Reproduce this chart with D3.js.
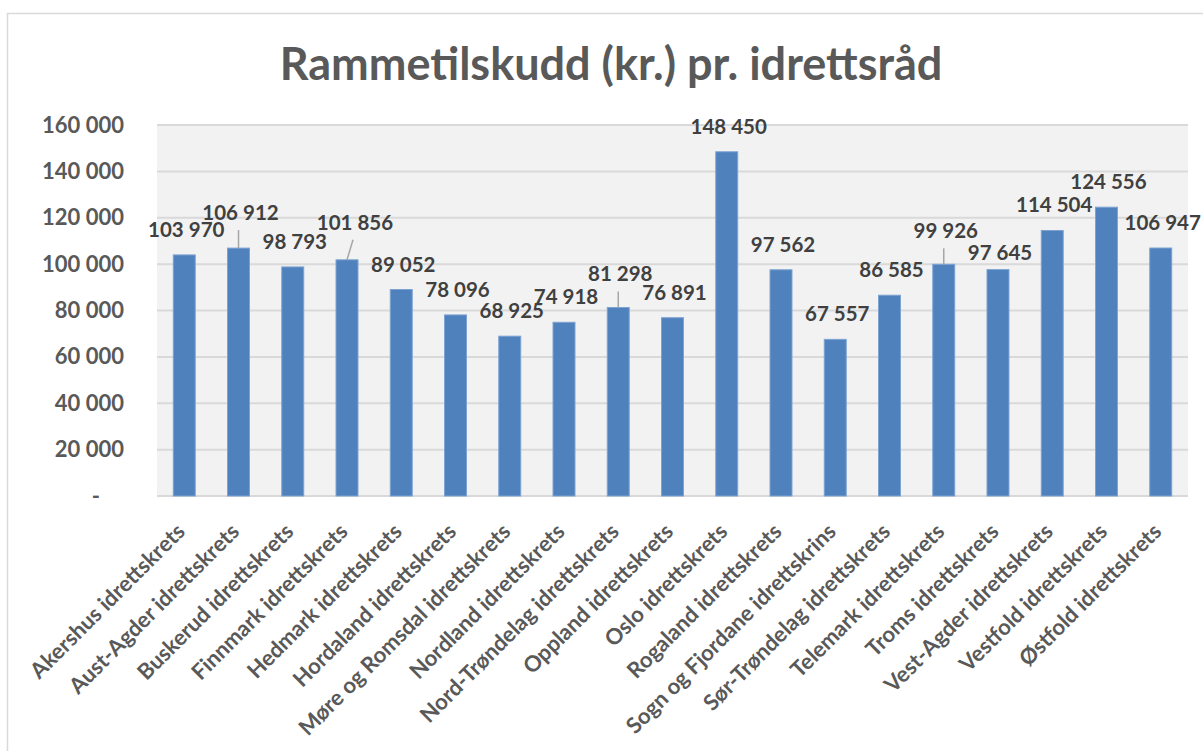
<!DOCTYPE html>
<html>
<head>
<meta charset="utf-8">
<script src="https://cdn.jsdelivr.net/npm/d3@7"></script>
<style>
  body { margin: 0; background: #fff; }
  svg text { font-family: Lato, "Open Sans", sans-serif; font-weight: 700; }
</style>
</head>
<body>
<svg id="chart"></svg>
<script>
const title = "Rammetilskudd (kr.) pr. idrettsråd";

const kretser = [
  "Akershus idrettskrets", "Aust-Agder idrettskrets", "Buskerud idrettskrets",
  "Finnmark idrettskrets", "Hedmark idrettskrets", "Hordaland idrettskrets",
  "Møre og Romsdal idrettskrets", "Nordland idrettskrets", "Nord-Trøndelag idrettskrets",
  "Oppland idrettskrets", "Oslo idrettskrets", "Rogaland idrettskrets",
  "Sogn og Fjordane idrettskrins", "Sør-Trøndelag idrettskrets", "Telemark idrettskrets",
  "Troms idrettskrets", "Vest-Agder idrettskrets", "Vestfold idrettskrets",
  "Østfold idrettskrets"
];

const tilskudd = [
  103970, 106912, 98793, 101856, 89052, 78096, 68925, 74918, 81298,
  76891, 148450, 97562, 67557, 86585, 99926, 97645, 114504, 124556, 106947
];

const yTicks = [0, 20000, 40000, 60000, 80000, 100000, 120000, 140000, 160000];

// labels that were dragged by hand in the original (px offsets, leader line)
const labelNudge = {
  1: { dx: 0, dy: -10, leader: true },
  3: { dx: 6, dy: -12, leader: true },
  8: { dx: 0, dy: -8, leader: true },
  14: { dx: 0, dy: -8, leader: true },
  15: { dx: 0, dy: 8, leader: false }
};

const width = 1203, height = 751;

const svg = d3.select("#chart")
  .attr("width", width)
  .attr("height", height);

// chart frame
svg.append("rect")
  .attr("x", 7.5).attr("y", 13.5)
  .attr("width", width + 20).attr("height", height + 20)
  .attr("fill", "#fff")
  .attr("stroke", "#d9d9d9")
  .attr("stroke-width", 1.5);

const x = d3.scaleBand()
  .domain(kretser)
  .range([157, 1188])
  .paddingInner(0.595)
  .paddingOuter(0.3);

const y = d3.scaleLinear()
  .domain([0, 160000])
  .range([496, 125]);

const fmt = v => v === 0 ? "-" : d3.format(",")(v).replace(/,/g, " ");

// plot area background
svg.append("rect")
  .attr("x", 157).attr("y", y(160000))
  .attr("width", 1188 - 157).attr("height", y(0) - y(160000))
  .attr("fill", "#f2f2f2");

// gridlines
svg.append("g")
  .selectAll("line")
  .data(yTicks)
  .join("line")
  .attr("x1", 157).attr("x2", 1188)
  .attr("y1", d => y(d)).attr("y2", d => y(d))
  .attr("stroke", "#d9d9d9")
  .attr("stroke-width", 2);

// y axis labels
svg.append("g")
  .selectAll("text")
  .data(yTicks)
  .join("text")
  .attr("x", d => d === 0 ? 100 : 124)
  .attr("y", d => y(d) + 7.5)
  .attr("text-anchor", "end")
  .attr("font-size", 22)
  .attr("fill", "#595959")
  .text(fmt);

// bars
svg.append("g")
  .selectAll("rect")
  .data(tilskudd)
  .join("rect")
  .attr("x", (d, i) => x(kretser[i]))
  .attr("y", d => y(d))
  .attr("width", x.bandwidth())
  .attr("height", d => y(0) - y(d))
  .attr("fill", "#4f81bd")
  .attr("stroke", "#7ea3d3")
  .attr("stroke-width", 1);

// data labels
const lab = tilskudd.map((v, i) => {
  const n = labelNudge[i] || { dx: 0, dy: 0, leader: false };
  const bx = x(kretser[i]) + x.bandwidth() / 2;
  return { v, i, bx, top: y(v), lx: bx + 2 + n.dx, ly: y(v) - 18 + n.dy, leader: n.leader };
});

svg.append("g")
  .selectAll("line")
  .data(lab.filter(d => d.leader))
  .join("line")
  .attr("x1", d => d.lx - 2).attr("y1", d => d.ly + 10)
  .attr("x2", d => d.bx).attr("y2", d => d.top)
  .attr("stroke", "#a6a6a6")
  .attr("stroke-width", 1.5);

svg.append("g")
  .selectAll("text")
  .data(lab)
  .join("text")
  .attr("x", d => d.lx)
  .attr("y", d => d.ly)
  .attr("text-anchor", "middle")
  .attr("font-size", 20.5)
  .attr("fill", "#404040")
  .text(d => fmt(d.v));

// category labels
svg.append("g")
  .selectAll("text")
  .data(kretser)
  .join("text")
  .attr("transform", d => `translate(${x(d) + x.bandwidth() / 2 + 2},${533}) rotate(-45)`)
  .attr("text-anchor", "end")
  .attr("font-size", 22)
  .attr("fill", "#595959")
  .text(d => d);

// title
svg.append("text")
  .attr("x", 611)
  .attr("y", 80)
  .attr("text-anchor", "middle")
  .attr("font-size", 45)
  .attr("fill", "#595959")
  .text(title);
</script>
</body>
</html>
